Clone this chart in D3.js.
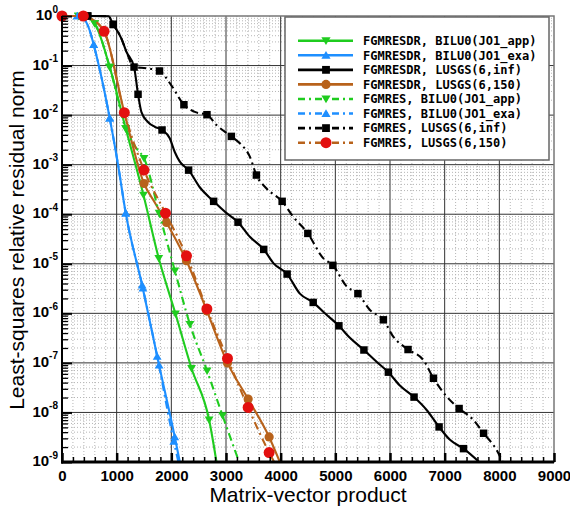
<!DOCTYPE html>
<html><head><meta charset="utf-8">
<script src="https://cdn.jsdelivr.net/npm/d3@7"></script>
<style>body{margin:0;background:#fff}svg{display:block}</style>
</head><body>
<svg id="c" width="570" height="508"></svg>
<script>
// ---------------- data ----------------
const xTickValues = [0,1000,2000,3000,4000,5000,6000,7000,8000,9000];
const yTickExponents = [0,-1,-2,-3,-4,-5,-6,-7,-8,-9];
const legendLabels = [
  "FGMRESDR, BILU0(JO1_app)",
  "FGMRESDR, BILU0(JO1_exa)",
  "FGMRESDR, LUSGS(6,inf)",
  "FGMRESDR, LUSGS(6,150)",
  "FGMRES, BILU0(JO1_app)",
  "FGMRES, BILU0(JO1_exa)",
  "FGMRES, LUSGS(6,inf)",
  "FGMRES, LUSGS(6,150)"
];
const xTitle = "Matrix-vector product";
const yTitle = "Least-squares relative residual norm";

// FGMRESDR, BILU0(JO1_app)
const greenDR_line = [[0,1],[300,1],[400,1],[510,0.89],[598,0.708],[873,0.0933],[1166,0.00537],[1490,2.45e-4],[1770,1.29e-5],[2076,9.8e-7],[2369,7.8e-8],[2691,7.1e-9],[2826,1e-9]];
const greenDR_marks = [[0,1],[300,1],[598,0.708],[873,0.0933],[1166,0.00537],[1490,2.45e-4],[1770,1.29e-5],[2076,9.8e-7],[2369,7.8e-8],[2691,7.1e-9]];
// FGMRESDR, BILU0(JO1_exa)
const blueDR_line = [[0,1],[280,1],[380,0.93],[507,0.51],[580,0.263],[873,0.0087],[1025,1e-3],[1166,1.05e-4],[1466,3.7e-6],[1776,9e-8],[2063,3.2e-9],[2155,1e-9]];
const blueDR_marks = [[0,1],[280,1],[580,0.263],[873,0.0087],[1166,1.05e-4],[1466,3.7e-6],[1776,9e-8],[2063,3.2e-9]];
// FGMRESDR, LUSGS(6,inf)
const blackDR_line = [[0,1],[470,1],[848,0.99],[938,0.676],[1087,0.35],[1178,0.19],[1318,0.0933],[1391,0.0263],[1453,0.0115],[1576,0.0072],[1697,0.0058],[1830,0.00501],[1971,0.0034],[2063,0.0018],[2155,0.00115],[2316,7.76e-4],[2520,3.5e-4],[2774,1.82e-4],[3010,1.05e-4],[3220,6.9e-5],[3436,3.5e-5],[3690,1.95e-5],[3870,1.02e-5],[4118,6.2e-6],[4351,2.5e-6],[4595,1.66e-6],[4808,1e-6],[5065,5.6e-7],[5266,3.2e-7],[5523,1.82e-7],[5755,1.05e-7],[5970,6.5e-8],[6180,3.5e-8],[6440,2.04e-8],[6670,1.12e-8],[6898,5.1e-9],[7097,2.8e-9],[7345,1.86e-9],[7632,1e-9]];
const blackDR_marks = [[0,1],[470,1],[938,0.676],[1391,0.0263],[1830,0.00501],[2316,7.76e-4],[2774,1.82e-4],[3220,6.9e-5],[3690,1.95e-5],[4118,6.2e-6],[4595,1.66e-6],[5065,5.6e-7],[5523,1.82e-7],[5970,6.5e-8],[6440,2.04e-8],[6898,5.1e-9],[7345,1.86e-9]];
// FGMRESDR, LUSGS(6,150)
const brownDR_line = [[0,1],[390,1],[480,0.93],[770,0.49],[1140,0.0112],[1500,4.17e-4],[1700,1.7e-4],[1911,6.8e-5],[2277,1.15e-5],[2650,1.12e-6],[3027,1e-7],[3405,1.86e-8],[3789,3.2e-9],[3985,1e-9]];
const brownDR_marks = [[0,1],[390,1],[770,0.49],[1140,0.0112],[1500,4.17e-4],[1911,6.8e-5],[2277,1.15e-5],[2650,1.12e-6],[3027,1e-7],[3405,1.86e-8],[3789,3.2e-9]];
// FGMRES, BILU0(JO1_app)
const greenR_line = [[0,1],[300,1],[400,1],[510,0.89],[598,0.708],[873,0.0933],[1166,0.00537],[1366,0.0021],[1500,0.00135],[1776,1.05e-4],[2065,7.2e-6],[2340,6.0e-7],[2654,6.9e-8],[2936,8.7e-9],[3240,1e-9]];
const greenR_marks = [[0,1],[300,1],[598,0.708],[873,0.0933],[1166,0.00537],[1500,0.00135],[1776,1.05e-4],[2065,7.2e-6],[2340,6.0e-7],[2654,6.9e-8],[2936,8.7e-9]];
// FGMRES, BILU0(JO1_exa)
const blueR_line = [[0,1],[280,1],[380,0.93],[507,0.51],[580,0.263],[873,0.0087],[1025,1e-3],[1166,1.05e-4],[1480,3.2e-6],[1741,1.35e-7],[2045,2.6e-9],[2130,1e-9]];
const blueR_marks = [[0,1],[280,1],[580,0.263],[873,0.0087],[1166,1.05e-4],[1480,3.2e-6],[1741,1.35e-7],[2045,2.6e-9]];
// FGMRES, LUSGS(6,inf)
const blackR_line = [[0,1],[470,1],[848,0.99],[938,0.676],[1087,0.35],[1178,0.19],[1318,0.0933],[1550,0.088],[1784,0.0776],[2000,0.04],[2230,0.0162],[2429,0.0116],[2652,0.0102],[2826,0.0063],[3098,0.00372],[3253,0.0027],[3436,0.00145],[3556,6.17e-4],[3742,3.3e-4],[4027,1.82e-4],[4229,8.9e-5],[4497,4.1e-5],[4778,1.3e-5],[4955,9.3e-6],[5206,3.5e-6],[5413,2.5e-6],[5633,1.17e-6],[5879,7.4e-7],[6059,3.4e-7],[6330,1.86e-7],[6608,1.15e-7],[6795,4.9e-8],[7036,2.1e-8],[7264,1.2e-8],[7524,7.1e-9],[7712,3.8e-9],[7951,1.74e-9],[8061,1e-9]];
const blackR_marks = [[0,1],[470,1],[938,0.676],[1318,0.0933],[1784,0.0776],[2230,0.0162],[2652,0.0102],[3098,0.00372],[3556,6.17e-4],[4027,1.82e-4],[4497,4.1e-5],[4955,9.3e-6],[5413,2.5e-6],[5879,7.4e-7],[6330,1.86e-7],[6795,4.9e-8],[7264,1.2e-8],[7712,3.8e-9]];
// FGMRES, LUSGS(6,150)
const redR_line = [[0,1],[390,1],[480,0.93],[770,0.49],[1140,0.0112],[1500,7.76e-4],[1893,1.05e-4],[2277,1.45e-5],[2650,1.23e-6],[3027,1.23e-7],[3405,1.26e-8],[3789,1.55e-9],[3880,1e-9]];
const redR_marks = [[0,1],[390,1],[770,0.49],[1140,0.0112],[1500,7.76e-4],[1893,1.05e-4],[2277,1.45e-5],[2650,1.23e-6],[3027,1.23e-7],[3405,1.26e-8],[3789,1.55e-9]];

// ---------------- styles ----------------
const GREEN="#1fcc1f", BLUE="#1e8fff", BLACK="#000", BROWN="#b8621b", RED="#e31010";
const DASHDOT="8,4,2,4";
const series = [
  {line:greenDR_line, marks:greenDR_marks, color:GREEN, dash:null, sym:"tdown", fill:GREEN},
  {line:blueDR_line,  marks:blueDR_marks,  color:BLUE,  dash:null, sym:"tup",   fill:BLUE},
  {line:blackDR_line, marks:blackDR_marks, color:BLACK, dash:null, sym:"square",fill:BLACK},
  {line:brownDR_line, marks:brownDR_marks, color:BROWN, dash:null, sym:"circle",fill:BROWN, r:4.6},
  {line:greenR_line,  marks:greenR_marks,  color:GREEN, dash:DASHDOT, sym:"tdown", fill:GREEN},
  {line:blueR_line,   marks:blueR_marks,   color:BLUE,  dash:DASHDOT, sym:"tup",   fill:BLUE},
  {line:blackR_line,  marks:blackR_marks,  color:BLACK, dash:DASHDOT, sym:"square",fill:BLACK},
  {line:redR_line,    marks:redR_marks,    color:BROWN, dash:DASHDOT, sym:"circle",fill:RED, r:5.5}
];

// ---------------- layout ----------------
const L=62, R=554, T=16, B=462;
const svg = d3.select("#c");
const x = d3.scaleLinear().domain([0,9000]).range([L,R]);
const y = d3.scaleLog().domain([1e-9,1]).range([B,T]);

// minor grid
const minorX = d3.range(200,9000,200).filter(v=>v%1000!==0);
const minorY = [];
for(let e=-9;e<0;e++) for(let k=2;k<=9;k++) minorY.push(k*Math.pow(10,e));
const g = svg.append("g");
g.selectAll(".mx").data(minorX).enter().append("line")
  .attr("x1",d=>x(d)).attr("x2",d=>x(d)).attr("y1",T).attr("y2",B)
  .attr("stroke","#b5b5b5").attr("stroke-width",1).attr("stroke-dasharray","1,2");
g.selectAll(".my").data(minorY).enter().append("line")
  .attr("x1",L).attr("x2",R).attr("y1",d=>y(d)).attr("y2",d=>y(d))
  .attr("stroke","#b5b5b5").attr("stroke-width",1).attr("stroke-dasharray","1,2");
// major grid
g.selectAll(".Mx").data(xTickValues.slice(1,-1)).enter().append("line")
  .attr("x1",d=>x(d)).attr("x2",d=>x(d)).attr("y1",T).attr("y2",B)
  .attr("stroke","#333").attr("stroke-width",1);
g.selectAll(".My").data(yTickExponents.slice(1,-1).map(e=>Math.pow(10,e))).enter().append("line")
  .attr("x1",L).attr("x2",R).attr("y1",d=>y(d)).attr("y2",d=>y(d))
  .attr("stroke","#333").attr("stroke-width",1);
// frame
svg.append("rect").attr("x",L).attr("y",T).attr("width",R-L).attr("height",B-T)
  .attr("fill","none").attr("stroke","#777").attr("stroke-width",1.5);

// clip
svg.append("clipPath").attr("id","clip").append("rect")
  .attr("x",L).attr("y",T-1).attr("width",R-L).attr("height",B-T+1);

function symPath(sym, s){
  if(sym==="tdown") return `M${-s},${-s*0.75}L${s},${-s*0.75}L0,${s*0.95}Z`;
  if(sym==="tup") return `M${-s},${s*0.75}L${s},${s*0.75}L0,${-s*0.95}Z`;
  if(sym==="square") return `M${-s*0.85},${-s*0.85}h${s*1.7}v${s*1.7}h${-s*1.7}Z`;
  return null;
}
function drawMarker(sel, s, cx, cy, size){
  if(s.sym==="circle"){
    sel.append("circle").attr("cx",cx).attr("cy",cy).attr("r",s.r).attr("fill",s.fill);
  } else {
    sel.append("path").attr("d",symPath(s.sym,size)).attr("transform",`translate(${cx},${cy})`).attr("fill",s.fill);
  }
}

const lineGen = d3.line().x(d=>x(d[0])).y(d=>y(d[1])).curve(d3.curveMonotoneX);
series.forEach(s=>{
  const gs = svg.append("g");
  gs.append("path").attr("d",lineGen(s.line)).attr("clip-path","url(#clip)")
    .attr("fill","none").attr("stroke",s.color).attr("stroke-width",2.1)
    .attr("stroke-dasharray",s.dash);
  s.marks.forEach(m=>drawMarker(gs, s, x(m[0]), y(m[1]), 4.4));
});

// axes
const fontSans = "'Liberation Sans', Arial, Helvetica, sans-serif";
const xAxisMajor = d3.axisBottom(x).tickValues(xTickValues).tickSize(-9).tickPadding(8).tickFormat(d3.format("d"));
const xAx = svg.append("g").attr("transform",`translate(0,${B})`).call(xAxisMajor);
xAx.select(".domain").remove();
xAx.selectAll("line").attr("stroke","#000").attr("stroke-width",2.5);
xAx.selectAll("text").attr("font-family",fontSans).attr("font-weight","bold").attr("font-size",15).attr("fill","#000");
const xAxisMinor = d3.axisBottom(x).tickValues(minorX).tickSize(-5).tickFormat("");
const xAm = svg.append("g").attr("transform",`translate(0,${B})`).call(xAxisMinor);
xAm.select(".domain").remove();
xAm.selectAll("line").attr("stroke","#000").attr("stroke-width",1.5);

const yAxisMajor = d3.axisLeft(y).tickValues(yTickExponents.map(e=>Math.pow(10,e))).tickSize(-10).tickPadding(4).tickFormat("");
const yAx = svg.append("g").attr("transform",`translate(${L},0)`).call(yAxisMajor);
yAx.select(".domain").remove();
yAx.selectAll("line").attr("stroke","#000").attr("stroke-width",2);
yAx.selectAll(".tick text").each(function(d,i){
  const t = d3.select(this).attr("font-family",fontSans).attr("font-weight","bold").attr("fill","#000").attr("dy","0.36em");
  t.append("tspan").attr("font-size",15).text("10");
  t.append("tspan").attr("font-size",10).attr("dy","-0.75em").text(String(yTickExponents[i]));
});
const yAxisMinor = d3.axisLeft(y).tickValues(minorY).tickSize(-6).tickFormat("");
const yAm = svg.append("g").attr("transform",`translate(${L},0)`).call(yAxisMinor);
yAm.select(".domain").remove();
yAm.selectAll("line").attr("stroke","#000").attr("stroke-width",1.3);

// axis lines
svg.append("line").attr("x1",L).attr("x2",L).attr("y1",T).attr("y2",B+1.5).attr("stroke","#000").attr("stroke-width",2);
svg.append("line").attr("x1",L-1).attr("x2",R).attr("y1",B).attr("y2",B).attr("stroke","#000").attr("stroke-width",3);

// titles
svg.append("text").attr("x",(L+R)/2).attr("y",502).attr("text-anchor","middle")
  .attr("font-family",fontSans).attr("font-size",21).attr("fill","#000").text(xTitle);
svg.append("text").attr("transform",`translate(24,${(T+B)/2+1}) rotate(-90)`).attr("text-anchor","middle")
  .attr("font-family",fontSans).attr("font-size",21).attr("fill","#000").text(yTitle);

// legend
const lg = svg.append("g");
lg.append("rect").attr("x",285).attr("y",17).attr("width",264).attr("height",143)
  .attr("fill","#fff").attr("stroke","#666").attr("stroke-width",1.5);
legendLabels.forEach((lab,i)=>{
  const s = series[i];
  const cy = 40.7 + i*14.57;
  lg.append("line").attr("x1",298).attr("x2",353).attr("y1",cy).attr("y2",cy)
    .attr("stroke",s.color).attr("stroke-width",2.6).attr("stroke-dasharray",s.dash ? "7,4,2,4" : null);
  drawMarker(lg, s, 326, cy, 4.6);
  lg.append("text").attr("x",363).attr("y",cy+4.3)
    .attr("font-family","'DejaVu Sans Mono', monospace").attr("font-weight","bold")
    .attr("font-size",12).attr("fill","#000").text(lab);
});
</script>
</body></html>
